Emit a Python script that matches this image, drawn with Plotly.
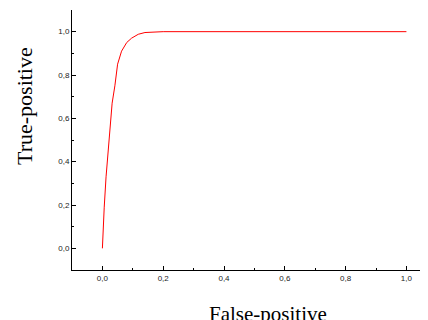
import plotly.graph_objects as go

fpr = [0, 0.002, 0.006, 0.012, 0.017, 0.025, 0.032, 0.041, 0.050, 0.063, 0.080, 0.096, 0.118, 0.140, 0.170, 0.200, 1.0]
tpr = [0, 0.10, 0.19, 0.33, 0.42, 0.55, 0.67, 0.75, 0.85, 0.91, 0.95, 0.97, 0.988, 0.996, 0.999, 1.0, 1.0]

x_title = "False-positive"
y_title = "True-positive"

fig = go.Figure()
fig.add_trace(go.Scatter(x=fpr, y=tpr, mode="lines",
                         line=dict(color="#ff0000", width=1), showlegend=False))

tickfont = dict(family="Liberation Sans, Arial, sans-serif", size=8, color="#222222")
axis_common = dict(tick0=0, dtick=0.2, tickformat=".1f", automargin=False,
                   ticks="inside", ticklen=4, tickcolor="black", tickwidth=1,
                   minor=dict(dtick=0.1, tick0=0, ticks="inside", ticklen=2, tickcolor="black"),
                   showline=True, linecolor="black", linewidth=1,
                   showgrid=False, zeroline=False, tickfont=tickfont)
# page body has an 8px margin, so the figure is drawn 8px smaller and offset
fig.update_layout(
    width=420, height=312,
    margin=dict(l=64, r=0, t=2, b=50, autoexpand=False),
    paper_bgcolor="white", plot_bgcolor="white",
    separators=",.",
    xaxis=dict(range=[-0.1, 1.071], **axis_common),
    yaxis=dict(range=[-0.1, 1.1], **axis_common),
    annotations=[
        dict(text=x_title, xref="paper", yref="paper", x=(268 - 72) / 356, y=-(300 - 270) / 260,
             xanchor="center", yanchor="top", showarrow=False,
             font=dict(family="Liberation Serif, Times New Roman, serif", size=21, color="black")),
        dict(text=y_title, xref="paper", yref="paper", x=-(72 - 24) / 356, y=(270 - 106) / 260,
             xanchor="center", yanchor="middle", textangle=-90, showarrow=False,
             font=dict(family="Liberation Serif, Times New Roman, serif", size=22, color="black")),
    ],
)

fig.write_html("out.html")
